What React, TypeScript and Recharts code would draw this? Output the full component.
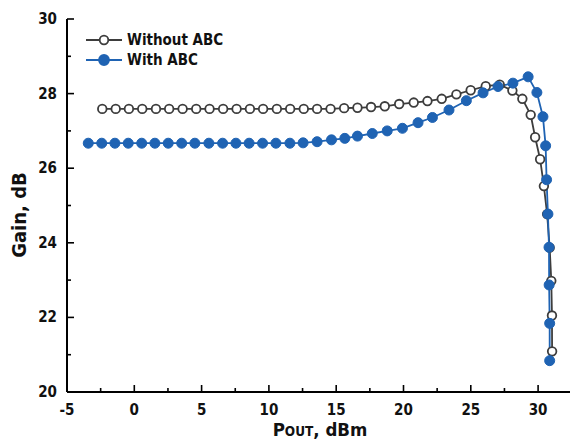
import React from 'react';
import { ComposedChart, Line, XAxis, YAxis } from 'recharts';

// Without ABC: output power (dBm) and gain (dB)
const woPout = [
  -2.38, -1.38, -0.4, 0.59, 1.61, 2.59, 3.59, 4.6, 5.59, 6.6, 7.6, 8.59, 9.57, 10.59,
  11.58, 12.59, 13.58, 14.58, 15.59, 16.58, 17.59, 18.61, 19.68, 20.76, 21.78, 22.84,
  23.93, 24.99, 26.11, 27.15, 28.09, 28.83, 29.45, 29.78, 30.15, 30.43, 30.67, 30.86,
  30.98, 31.03, 31.04,
];
const woGain = [
  27.59, 27.59, 27.59, 27.59, 27.59, 27.59, 27.59, 27.59, 27.59, 27.59, 27.59, 27.59,
  27.59, 27.59, 27.59, 27.59, 27.59, 27.59, 27.61, 27.62, 27.64, 27.66, 27.72, 27.76,
  27.8, 27.86, 27.98, 28.09, 28.2, 28.24, 28.08, 27.86, 27.43, 26.83, 26.24, 25.52,
  24.77, 23.87, 22.98, 22.05, 21.09,
];

// With ABC: output power (dBm) and gain (dB)
const wPout = [
  -3.42, -2.42, -1.44, -0.45, 0.55, 1.53, 2.52, 3.52, 4.5, 5.54, 6.56, 7.55, 8.53, 9.53,
  10.52, 11.56, 12.54, 13.58, 14.65, 15.64, 16.58, 17.68, 18.79, 19.92, 21.08, 22.15,
  23.38, 24.67, 25.91, 27.02, 28.13, 29.26, 29.91, 30.36, 30.56, 30.63, 30.73, 30.81,
  30.82, 30.86, 30.86,
];
const wGain = [
  26.67, 26.67, 26.67, 26.67, 26.67, 26.67, 26.67, 26.67, 26.67, 26.67, 26.67, 26.67,
  26.67, 26.67, 26.67, 26.67, 26.68, 26.71, 26.76, 26.8, 26.86, 26.93, 27.0, 27.07,
  27.22, 27.36, 27.56, 27.81, 28.02, 28.19, 28.28, 28.45, 28.03, 27.38, 26.6, 25.69,
  24.77, 23.88, 22.87, 21.84, 20.84,
];

const xTicks = [-5, -2.5, 0, 2.5, 5, 7.5, 10, 12.5, 15, 17.5, 20, 22.5, 25, 27.5, 30];
const yTicks = [20, 21, 22, 23, 24, 25, 26, 27, 28, 29, 30];
const seriesNames = ['Without ABC', 'With ABC'];

const woData = woPout.map((x, i) => ({ x, g: woGain[i] }));
const wData = wPout.map((x, i) => ({ x, g: wGain[i] }));

const FONT = "'DejaVu Sans Condensed', 'DejaVu Sans', sans-serif";
const GRAY = '#3d3d3d';
const BLUE = '#1f63b3';

const isMajorX = (v: number) => Math.abs(v % 5) < 1e-6;
const isMajorY = (v: number) => v % 2 === 0;

const BottomTick = (props: any) => {
  const { x, y, payload } = props;
  const v = payload.value;
  const major = isMajorX(v);
  return (
    <g>
      <line x1={x} x2={x} y1={y} y2={y - (major ? 7 : 4)} stroke="#000" strokeWidth={1.6} />
      {major && (
        <text x={x} y={y + 23} textAnchor="middle" fontFamily={FONT} fontWeight="bold" fontSize={15} fill="#111">
          {v}
        </text>
      )}
    </g>
  );
};

const TopTick = (props: any) => {
  const { x, y, payload } = props;
  const major = isMajorX(payload.value);
  return <line x1={x} x2={x} y1={y} y2={y + (major ? 7 : 4)} stroke="#000" strokeWidth={1.6} />;
};

const LeftTick = (props: any) => {
  const { x, y, payload } = props;
  const v = payload.value;
  const major = isMajorY(v);
  return (
    <g>
      <line x1={x} x2={x + (major ? 7 : 4)} y1={y} y2={y} stroke="#000" strokeWidth={1.6} />
      {major && (
        <text x={x - 10} y={y + 5} textAnchor="end" fontFamily={FONT} fontWeight="bold" fontSize={15} fill="#111">
          {v}
        </text>
      )}
    </g>
  );
};

const RightTick = (props: any) => {
  const { x, y, payload } = props;
  const major = isMajorY(payload.value);
  return <line x1={x} x2={x - (major ? 7 : 4)} y1={y} y2={y} stroke="#000" strokeWidth={1.6} />;
};

const YTitle = () => (
  <text
    x={26}
    y={215}
    transform="rotate(-90, 26, 215)"
    textAnchor="middle"
    fontFamily={FONT}
    fontWeight="bold"
    fontSize={20}
    fill="#111"
  >
    Gain, dB
  </text>
);

const XTitle = () => (
  <text x={320} y={436} textAnchor="middle" fontFamily={FONT} fontWeight="bold" fontSize={18.5} fill="#111">
    P<tspan fontSize={13.5}>OUT</tspan>, dBm
  </text>
);

const LegendBox = () => (
  <div style={{ position: 'absolute', left: 80, top: 30, fontFamily: FONT, fontWeight: 'bold', fontSize: 15, color: '#111' }}>
    {seriesNames.map((name, i) => (
      <div key={name} style={{ display: 'flex', alignItems: 'center', height: 20 }}>
        <svg width={46} height={14}>
          <line x1={6} x2={42} y1={7} y2={7} stroke={i === 0 ? GRAY : BLUE} strokeWidth={1.8} />
          <circle
            cx={24}
            cy={7}
            r={i === 0 ? 4.3 : 5}
            fill={i === 0 ? '#fff' : BLUE}
            stroke={i === 0 ? GRAY : BLUE}
            strokeWidth={1.8}
          />
        </svg>
        <span style={{ marginLeft: 1 }}>{name}</span>
      </div>
    ))}
  </div>
);

export default function App() {
  return (
    <div style={{ position: 'absolute', left: 0, top: 0, width: 570, height: 440, background: '#fff' }}>
      <ComposedChart width={570} height={440} margin={{ top: 19, right: 0, bottom: 0, left: 0 }}>
        <XAxis
          xAxisId="b"
          dataKey="x"
          type="number"
          domain={[-5, 32.37]}
          ticks={xTicks}
          interval={0}
          allowDataOverflow
          height={48}
          tickSize={0}
          tickMargin={0}
          tickLine={false}
          axisLine={{ stroke: '#000', strokeWidth: 2 }}
          tick={<BottomTick />}
          label={<XTitle />}
        />
        <XAxis
          xAxisId="t"
          orientation="top"
          dataKey="x"
          type="number"
          domain={[-5, 32.37]}
          ticks={xTicks}
          interval={0}
          allowDataOverflow
          height={0}
          tickSize={0}
          tickMargin={0}
          tickLine={false}
          axisLine={{ stroke: '#000', strokeWidth: 2 }}
          tick={<TopTick />}
        />
        <YAxis
          yAxisId="l"
          type="number"
          domain={[20, 30]}
          ticks={yTicks}
          interval={0}
          allowDataOverflow
          width={67}
          tickSize={0}
          tickMargin={0}
          tickLine={false}
          axisLine={{ stroke: '#000', strokeWidth: 2 }}
          tick={<LeftTick />}
          label={<YTitle />}
        />
        <YAxis
          yAxisId="r"
          orientation="right"
          type="number"
          domain={[20, 30]}
          ticks={yTicks}
          interval={0}
          allowDataOverflow
          width={0}
          tickSize={0}
          tickMargin={0}
          tickLine={false}
          axisLine={false}
          tick={<RightTick />}
        />
        <Line
          xAxisId="b"
          yAxisId="l"
          data={woData}
          dataKey="g"
          type="linear"
          stroke={GRAY}
          strokeWidth={1.8}
          dot={{ r: 4.3, fill: '#fff', stroke: GRAY, strokeWidth: 1.8 }}
          isAnimationActive={false}
        />
        <Line
          xAxisId="b"
          yAxisId="l"
          data={wData}
          dataKey="g"
          type="linear"
          stroke={BLUE}
          strokeWidth={1.8}
          dot={{ r: 5, fill: BLUE, stroke: BLUE, strokeWidth: 1 }}
          isAnimationActive={false}
        />
      </ComposedChart>
      <LegendBox />
    </div>
  );
}
